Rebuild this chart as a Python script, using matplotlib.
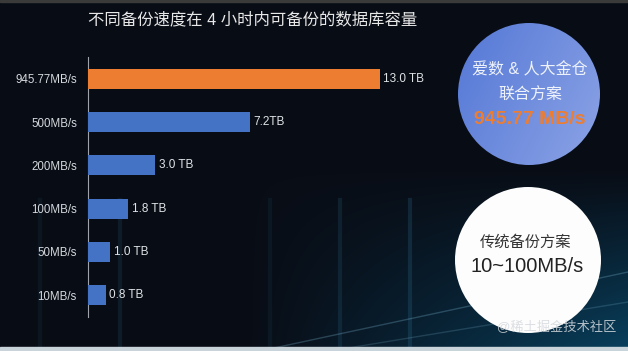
import matplotlib
matplotlib.use("Agg")
import matplotlib.pyplot as plt
import numpy as np
from matplotlib.patches import Circle, Rectangle

plt.rcParams['font.family'] = ['Liberation Sans', 'Noto Sans CJK SC', 'DejaVu Sans']

categories = ["945.77MB/s", "500MB/s", "200MB/s", "100MB/s", "50MB/s", "10MB/s"]
values = [13.0, 7.2, 3.0, 1.8, 1.0, 0.8]
value_labels = ["13.0 TB", "7.2TB", "3.0 TB", "1.8 TB", "1.0 TB", "0.8 TB"]
bar_colors = ["#ed7d31", "#4472c4", "#4472c4", "#4472c4", "#4472c4", "#4472c4"]
title = "不同备份速度在 4 小时内可备份的数据库容量"

W, H = 628, 351
fig = plt.figure(figsize=(W / 100, H / 100), dpi=100)

# background
bg = fig.add_axes([0, 0, 1, 1])
bg.set_xlim(0, W)
bg.set_ylim(H, 0)
bg.axis('off')
yy, xx = np.mgrid[0:H, 0:W]
base = np.zeros((H, W, 3))
t = np.clip((yy - 170) / 180.0, 0, 1) * np.clip((xx - 250) / 378.0, 0, 1)
base[..., 0] = 0.035 + 0.00 * t
base[..., 1] = 0.05 + 0.20 * t
base[..., 2] = 0.085 + 0.28 * t
bg.imshow(base, extent=[0, W, H, 0], aspect='auto', zorder=0)
# faint light streaks
for x0, a in [(40, 0.08), (120, 0.12), (270, 0.08), (340, 0.14), (410, 0.18)]:
    bg.plot([x0, x0], [200, H], color="#3a8fb8", alpha=a, lw=3, zorder=1)
bg.plot([260, 628], [351, 272], color="#8fd0ee", alpha=0.25, lw=1.0, zorder=1)
bg.plot([330, 628], [351, 302], color="#8fd0ee", alpha=0.18, lw=1.0, zorder=1)
# top and bottom borders
bg.add_patch(Rectangle((0, 0), W, 2, color="#3a3a3a", zorder=2))
bg.add_patch(Rectangle((0, H - 4), W, 4, color="#c9d3da", zorder=2))

# circles
blue = Circle((529, 94), 71, transform=bg.transData, zorder=3)
grad = np.zeros((H, W, 3))
g = np.clip(((xx - 458) + 0.5 * (yy - 23)) / 213.0, 0, 1)
grad[..., 0] = 0.33 + 0.22 * g
grad[..., 1] = 0.47 + 0.17 * g
grad[..., 2] = 0.84 + 0.06 * g
im = bg.imshow(grad, extent=[0, W, H, 0], aspect='auto', zorder=3)
im.set_clip_path(blue)
bg.add_patch(Circle((528, 260), 73, facecolor="#fdfdfd", edgecolor="none", zorder=3))

bg.text(530, 70, "爱数 & 人大金仓", color="#eef2fb", fontsize=11.5, ha='center', va='center', zorder=4)
bg.text(530, 95, "联合方案", color="#eef2fb", fontsize=11.5, ha='center', va='center', zorder=4)
bg.text(530, 120, "945.77 MB/s", color="#ed7d31", fontsize=14, fontweight='bold', ha='center', va='center', zorder=4)
bg.text(526, 242, "传统备份方案", color="#333333", fontsize=11, ha='center', va='center', zorder=4)
bg.text(527, 266, "10~100MB/s", color="#222222", fontsize=14.5, ha='center', va='center', zorder=4)
bg.text(557, 328, "@稀土掘金技术社区", color="#d5d9de", fontsize=9.5, ha='center', va='center', zorder=4, alpha=0.85)

bg.text(88, 20, title, color="#e8e8e8", fontsize=11.8, ha='left', va='center', zorder=4)

# bar chart
ax = fig.add_axes([88 / W, 1 - 317 / H, 337 / W, 260 / H])
ax.patch.set_alpha(0)
y = np.arange(len(categories))
ax.barh(y, values, height=0.46, color=bar_colors, zorder=3)
ax.set_ylim(len(categories) - 0.5, -0.5)
ax.set_xlim(0, 15)
ax.set_yticks(y)
ax.set_yticklabels(categories, color="#d5d8dc", fontsize=8.3)
ax.tick_params(axis='y', length=0, pad=8)
ax.set_xticks([])
for s in ['top', 'right', 'bottom']:
    ax.spines[s].set_visible(False)
ax.spines['left'].set_color("#a0a4aa")
ax.spines['left'].set_linewidth(0.8)
for yi, v, lab in zip(y, values, value_labels):
    ax.text(v + 0.15, yi, lab, color="#e0e3e6", fontsize=8.5, ha='left', va='center')

fig.savefig("out.png", dpi=100)
